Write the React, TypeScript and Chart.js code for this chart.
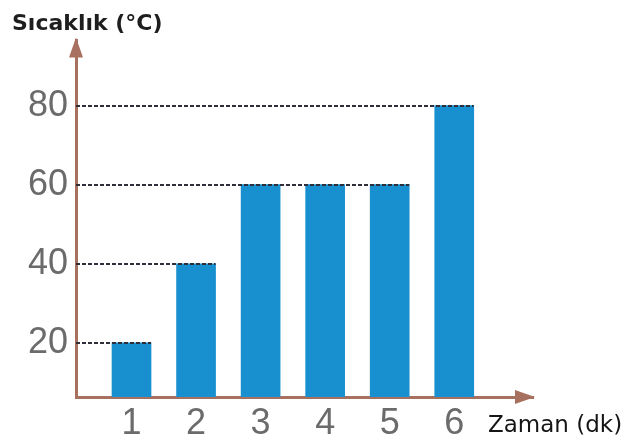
import React, { useEffect, useRef } from 'react';
import { Chart, registerables } from 'chart.js';

Chart.register(...registerables);

// ---- data ----
const minutes = [1, 2, 3, 4, 5, 6];
const temperatures = [20, 40, 60, 60, 60, 80];
const yTickValues = [20, 40, 60, 80];
const xTickValues = [1, 2, 3, 4, 5, 6];
const yTitle = 'Sıcaklık (°C)';
const xTitle = 'Zaman (dk)';

// ---- style ----
const AXIS = '#a8705f';
const BAR = '#1890d0';
const GUIDE = '#2f2f3c';
const TICK = '#6b6b6b';

const guidesPlugin = {
  id: 'guidesAndArrows',
  afterDatasetsDraw(chart: any) {
    const { ctx, chartArea, scales } = chart;
    const meta = chart.getDatasetMeta(0);
    ctx.save();
    ctx.setLineDash([4, 2]);
    ctx.lineWidth = 2;
    ctx.strokeStyle = GUIDE;
    yTickValues.forEach((v) => {
      let end: number | null = null;
      temperatures.forEach((t, i) => {
        if (t === v) {
          const el: any = meta.data[i];
          end = el.x + el.width / 2;
        }
      });
      if (end === null) return;
      const y = Math.round(scales.y.getPixelForValue(v));
      ctx.beginPath();
      ctx.moveTo(chartArea.left, y);
      ctx.lineTo(end, y);
      ctx.stroke();
    });
    ctx.restore();
  },
  afterDraw(chart: any) {
    const { ctx, chartArea } = chart;
    ctx.save();
    ctx.fillStyle = AXIS;
    // y arrow
    const yx = chartArea.left;
    ctx.beginPath();
    ctx.moveTo(yx, chartArea.top - 3);
    ctx.lineTo(yx - 7, chartArea.top + 17);
    ctx.lineTo(yx + 7, chartArea.top + 17);
    ctx.closePath();
    ctx.fill();
    // x arrow
    const xy = chartArea.bottom;
    ctx.beginPath();
    ctx.moveTo(chartArea.right + 2, xy);
    ctx.lineTo(chartArea.right - 18, xy - 7);
    ctx.lineTo(chartArea.right - 18, xy + 7);
    ctx.closePath();
    ctx.fill();
    // x title
    ctx.fillStyle = '#151515';
    ctx.font = '23px "DejaVu Sans"';
    ctx.textAlign = 'left';
    ctx.textBaseline = 'middle';
    ctx.fillText(xTitle, chartArea.right - 45, chartArea.bottom + 29);
    ctx.restore();
  },
};

export default function App() {
  const ref = useRef<HTMLCanvasElement | null>(null);
  useEffect(() => {
    if (!ref.current) return;
    const chart = new Chart(ref.current, {
      type: 'bar',
      data: {
        datasets: [
          {
            data: minutes.map((m, i) => ({ x: m, y: temperatures[i] })),
            backgroundColor: BAR,
            borderWidth: 0,
            barThickness: 39,
          },
        ],
      },
      options: {
        animation: false,
        responsive: false,
        devicePixelRatio: 1,
        layout: { padding: { left: 12, right: 94, top: 0, bottom: 0 } },
        plugins: {
          legend: { display: false },
          tooltip: { enabled: false },
          title: {
            display: true,
            text: yTitle,
            align: 'start',
            color: '#1e1e1e',
            font: { family: '"DejaVu Sans"', size: 22, weight: 'bold' },
            padding: { top: 11, bottom: 3 },
          },
        },
        scales: {
          x: {
            type: 'linear',
            offset: false,
            min: 0.14,
            max: 7.22,
            grid: { display: false, drawTicks: false, offset: false },
            border: { display: true, color: AXIS, width: 3 },
            afterBuildTicks: (s: any) => {
              s.ticks = xTickValues.map((v) => ({ value: v }));
            },
            afterFit: (s: any) => {
              s.height = 48;
            },
            ticks: {
              color: TICK,
              padding: 5,
              font: { family: '"Liberation Sans"', size: 36 },
            },
          },
          y: {
            type: 'linear',
            min: 6.3,
            max: 96.5,
            grid: { display: false, drawTicks: false },
            border: { display: true, color: AXIS, width: 3 },
            afterBuildTicks: (s: any) => {
              s.ticks = yTickValues.map((v) => ({ value: v }));
            },
            afterFit: (s: any) => {
              s.width = 64;
            },
            ticks: {
              color: TICK,
              padding: 8,
              font: { family: '"Liberation Sans"', size: 36 },
            },
          },
        },
      },
      plugins: [guidesPlugin],
    } as any);
    return () => chart.destroy();
  }, []);
  return (
    <div style={{ position: 'absolute', left: 0, top: 0, width: 627, height: 445, background: '#fff' }}>
      <canvas ref={ref} width={627} height={445} style={{ display: 'block' }} />
    </div>
  );
}
